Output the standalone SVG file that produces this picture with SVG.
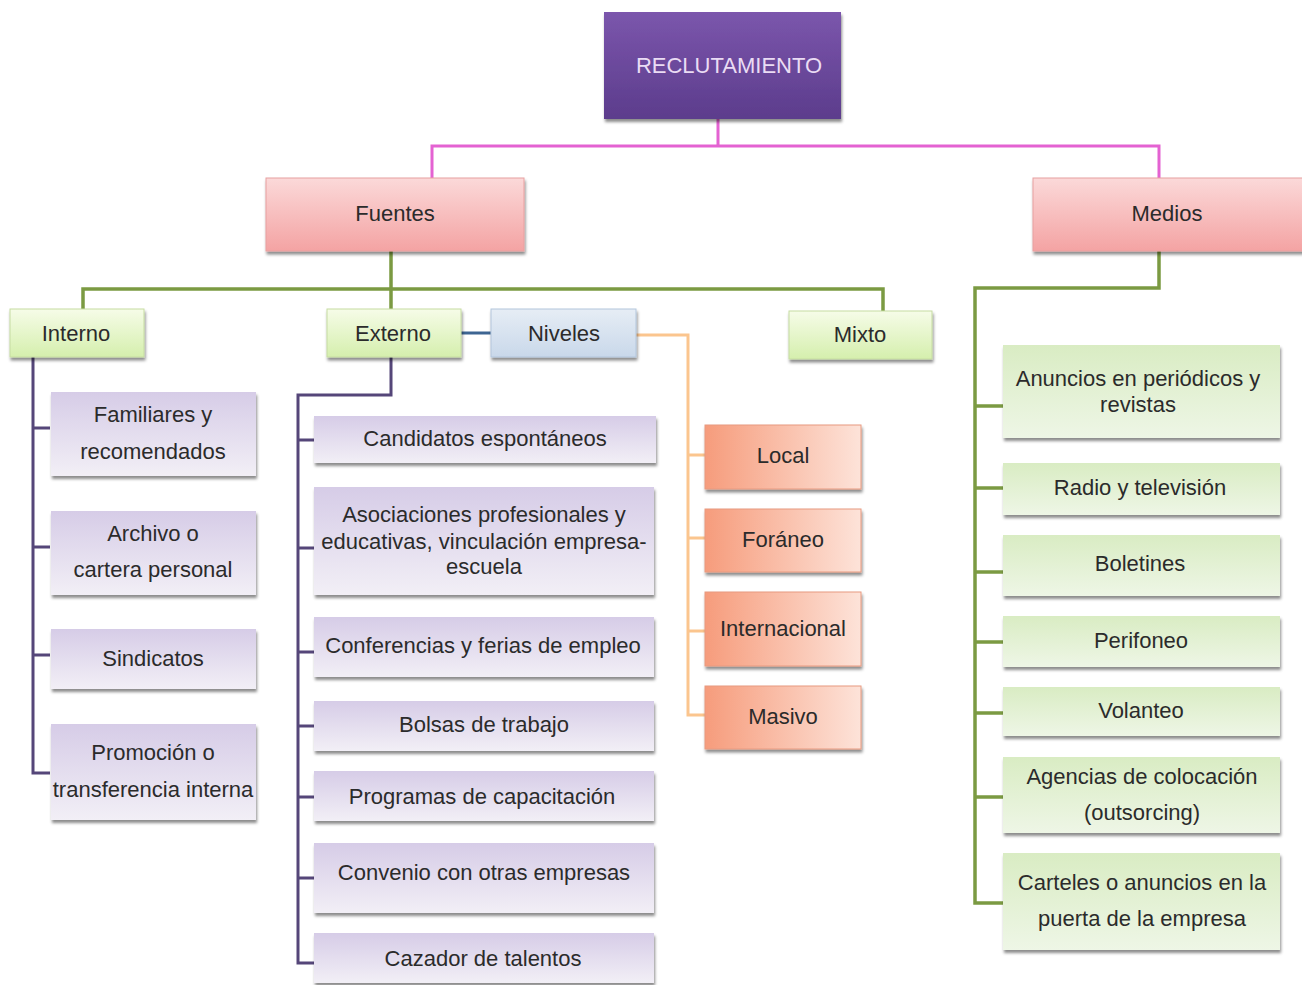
<svg xmlns="http://www.w3.org/2000/svg" width="1302" height="985" viewBox="0 0 1302 985">
<defs>
<linearGradient id="gPurpleDark" x1="0" y1="0" x2="0" y2="1"><stop offset="0" stop-color="#7b56ac"/><stop offset="1" stop-color="#5c3c8c"/></linearGradient>
<linearGradient id="gPink" x1="0" y1="0" x2="0" y2="1"><stop offset="0" stop-color="#fbd9d9"/><stop offset="1" stop-color="#f4a3a3"/></linearGradient>
<linearGradient id="gLime" x1="0" y1="0" x2="0" y2="1"><stop offset="0" stop-color="#f6fce8"/><stop offset="1" stop-color="#d5efad"/></linearGradient>
<linearGradient id="gBlue" x1="0" y1="0" x2="0" y2="1"><stop offset="0" stop-color="#e6edf5"/><stop offset="1" stop-color="#c9d8ea"/></linearGradient>
<linearGradient id="gLav" x1="0" y1="0" x2="0" y2="1"><stop offset="0" stop-color="#d6cce7"/><stop offset="1" stop-color="#f2eff6"/></linearGradient>
<linearGradient id="gOrange" x1="0" y1="0" x2="1" y2="0"><stop offset="0" stop-color="#f69c7c"/><stop offset="1" stop-color="#fde3d9"/></linearGradient>
<linearGradient id="gGreen" x1="0" y1="0" x2="0" y2="1"><stop offset="0" stop-color="#d9ecc3"/><stop offset="1" stop-color="#eef6e6"/></linearGradient>
<filter id="sh" x="-10%" y="-10%" width="120%" height="130%"><feDropShadow dx="1" dy="3" stdDeviation="1.5" flood-color="#000" flood-opacity="0.45"/></filter>
</defs>
<style>
text{font-family:"Liberation Sans",Arial,sans-serif;font-size:22px;fill:#2b2b2b;text-anchor:middle;dominant-baseline:central}
.box{filter:url(#sh)}
.c{fill:none;stroke-linejoin:miter}
.pink{stroke:#e462d2;stroke-width:3}
.green{stroke:#7b9a42;stroke-width:3.5}
.purple{stroke:#554679;stroke-width:3}
.orange{stroke:#fbc58e;stroke-width:3}
.blue{stroke:#3d6592;stroke-width:3}
</style>
<rect width="1302" height="985" fill="#ffffff"/>
<g id="connectors">
<path class="c pink" d="M718 119V146M432 178V146H1159V178"/>
<path class="c green" d="M391 251V309M83 309V289H883V311"/>
<path class="c blue" d="M461 333H491"/>
<path class="c green" d="M1159 251V288H975V903H1003M975 406H1003M975 488H1003M975 572H1003M975 642H1003M975 713H1003M975 797H1003"/>
<path class="c purple" d="M33 357V773H50M33 428H50M33 547H50M33 655H50"/>
<path class="c purple" d="M391 357V395H298V963H315M298 440H315M298 548H315M298 652H315M298 726H315M298 797H315M298 878H315"/>
<path class="c orange" d="M636 335H688V715H705M688 455H705M688 538H705M688 631H705"/>
</g>
<g id="reclutamiento"><rect class="box" x="604" y="12" width="237" height="107" fill="url(#gPurpleDark)"/><text x="729" y="65" style="fill:#eadcf4">RECLUTAMIENTO</text></g>
<g id="fuentes"><rect class="box" x="266" y="178" width="258" height="73" fill="url(#gPink)" stroke="#e8a0a0" stroke-width="1"/><text x="395" y="213">Fuentes</text></g>
<g id="medios"><rect class="box" x="1033" y="178" width="275" height="73" fill="url(#gPink)" stroke="#e8a0a0" stroke-width="1"/><text x="1167" y="213">Medios</text></g>
<g id="interno"><rect class="box" x="10" y="309" width="134" height="48" fill="url(#gLime)" stroke="#c6dca2" stroke-width="1"/><text x="76" y="333">Interno</text></g>
<g id="externo"><rect class="box" x="327" y="309" width="134" height="48" fill="url(#gLime)" stroke="#c6dca2" stroke-width="1"/><text x="393" y="333">Externo</text></g>
<g id="niveles"><rect class="box" x="491" y="309" width="145" height="48" fill="url(#gBlue)" stroke="#b3c6dc" stroke-width="1"/><text x="564" y="333">Niveles</text></g>
<g id="mixto"><rect class="box" x="789" y="311" width="143" height="48" fill="url(#gLime)" stroke="#c6dca2" stroke-width="1"/><text x="860" y="334">Mixto</text></g>
<g id="familiares"><rect class="box" x="51" y="392" width="205" height="84" fill="url(#gLav)"/><text x="153" y="414">Familiares y</text><text x="153" y="451">recomendados</text></g>
<g id="archivo"><rect class="box" x="51" y="511" width="205" height="84" fill="url(#gLav)"/><text x="153" y="533">Archivo o</text><text x="153" y="569">cartera personal</text></g>
<g id="sindicatos"><rect class="box" x="51" y="629" width="205" height="60" fill="url(#gLav)"/><text x="153" y="658">Sindicatos</text></g>
<g id="promocion"><rect class="box" x="51" y="724" width="205" height="96" fill="url(#gLav)"/><text x="153" y="752">Promoción o</text><text x="153" y="789">transferencia interna</text></g>
<g id="candidatos"><rect class="box" x="314" y="416" width="342" height="47" fill="url(#gLav)"/><text x="485" y="438">Candidatos espontáneos</text></g>
<g id="asociaciones"><rect class="box" x="314" y="487" width="340" height="108" fill="url(#gLav)"/><text x="484" y="514">Asociaciones profesionales y</text><text x="484" y="541">educativas, vinculación empresa-</text><text x="484" y="566">escuela</text></g>
<g id="conferencias"><rect class="box" x="314" y="617" width="340" height="60" fill="url(#gLav)"/><text x="483" y="645">Conferencias y ferias de empleo</text></g>
<g id="bolsas"><rect class="box" x="314" y="701" width="340" height="50" fill="url(#gLav)"/><text x="484" y="724">Bolsas de trabajo</text></g>
<g id="programas"><rect class="box" x="314" y="771" width="340" height="50" fill="url(#gLav)"/><text x="482" y="796">Programas de capacitación</text></g>
<g id="convenio"><rect class="box" x="314" y="843" width="340" height="70" fill="url(#gLav)"/><text x="484" y="872">Convenio con otras empresas</text></g>
<g id="cazador"><rect class="box" x="314" y="933" width="340" height="50" fill="url(#gLav)"/><text x="483" y="958">Cazador de talentos</text></g>
<g id="local"><rect class="box" x="705" y="425" width="156" height="64" fill="url(#gOrange)" stroke="#e89a80" stroke-width="1"/><text x="783" y="455">Local</text></g>
<g id="foraneo"><rect class="box" x="705" y="509" width="156" height="63" fill="url(#gOrange)" stroke="#e89a80" stroke-width="1"/><text x="783" y="539">Foráneo</text></g>
<g id="internacional"><rect class="box" x="705" y="592" width="156" height="74" fill="url(#gOrange)" stroke="#e89a80" stroke-width="1"/><text x="783" y="628">Internacional</text></g>
<g id="masivo"><rect class="box" x="705" y="686" width="156" height="63" fill="url(#gOrange)" stroke="#e89a80" stroke-width="1"/><text x="783" y="716">Masivo</text></g>
<g id="anuncios"><rect class="box" x="1003" y="345" width="277" height="93" fill="url(#gGreen)"/><text x="1138" y="378">Anuncios en periódicos y</text><text x="1138" y="404">revistas</text></g>
<g id="radio"><rect class="box" x="1003" y="463" width="277" height="52" fill="url(#gGreen)"/><text x="1140" y="487">Radio y televisión</text></g>
<g id="boletines"><rect class="box" x="1003" y="535" width="277" height="61" fill="url(#gGreen)"/><text x="1140" y="563">Boletines</text></g>
<g id="perifoneo"><rect class="box" x="1003" y="616" width="277" height="51" fill="url(#gGreen)"/><text x="1141" y="640">Perifoneo</text></g>
<g id="volanteo"><rect class="box" x="1003" y="687" width="277" height="49" fill="url(#gGreen)"/><text x="1141" y="710">Volanteo</text></g>
<g id="agencias"><rect class="box" x="1003" y="757" width="277" height="76" fill="url(#gGreen)"/><text x="1142" y="776">Agencias de colocación</text><text x="1142" y="812">(outsorcing)</text></g>
<g id="carteles"><rect class="box" x="1003" y="853" width="277" height="97" fill="url(#gGreen)"/><text x="1142" y="882">Carteles o anuncios en la</text><text x="1142" y="918">puerta de la empresa</text></g>
</svg>
